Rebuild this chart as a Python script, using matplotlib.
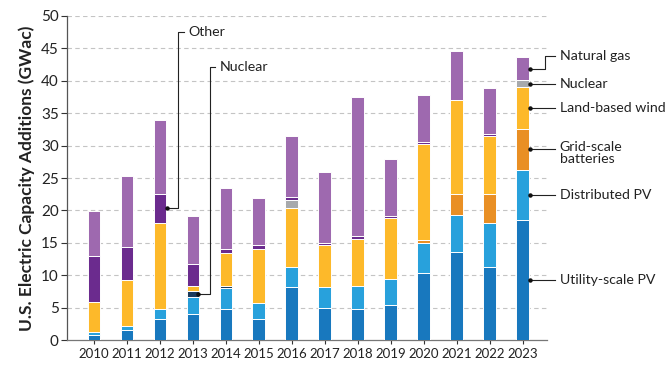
import numpy as np
import matplotlib.pyplot as plt

plt.rcParams["font.family"] = ["Lato", "DejaVu Sans"]

# ── Data (GWac) ────────────────────────────────────────────────────────────────
years = ["2010", "2011", "2012", "2013", "2014", "2015", "2016",
         "2017", "2018", "2019", "2020", "2021", "2022", "2023"]

utility_pv   = [0.8, 1.5, 3.2, 4.0, 4.8, 3.2, 8.2, 5.0, 4.8, 5.4, 10.4, 13.6, 11.3, 18.5]
distrib_pv   = [0.4, 0.7, 1.6, 2.7, 3.3, 2.5, 3.1, 3.2, 3.5, 4.0, 4.5, 5.7, 6.8, 7.8]
batteries    = [0.0, 0.0, 0.0, 0.0, 0.0, 0.0, 0.0, 0.0, 0.0, 0.0, 0.6, 3.2, 4.4, 6.3]
nuclear_low  = [0.0, 0.0, 0.0, 0.8, 0.3, 0.0, 0.0, 0.0, 0.0, 0.0, 0.0, 0.0, 0.0, 0.0]
wind         = [4.7, 7.1, 13.3, 0.8, 5.1, 8.4, 9.0, 6.4, 7.3, 9.4, 14.7, 14.6, 9.0, 6.4]
nuclear      = [0.0, 0.0, 0.0, 0.0, 0.0, 0.0, 1.3, 0.0, 0.0, 0.0, 0.0, 0.0, 0.0, 1.1]
other        = [7.0, 5.0, 4.4, 3.4, 0.6, 0.6, 0.5, 0.4, 0.4, 0.3, 0.4, 0.0, 0.3, 0.0]
natural_gas  = [7.0, 11.0, 11.4, 7.5, 9.4, 7.2, 9.4, 10.9, 21.5, 8.8, 7.2, 7.5, 7.1, 3.5]

series = [
    (utility_pv,  "#1878be"),
    (distrib_pv,  "#28a1dc"),
    (batteries,   "#e98f24"),
    (nuclear_low, "#1c3b5c"),
    (wind,        "#fdb92a"),
    (nuclear,     "#a7a9ac"),
    (other,       "#6b2b8e"),
    (natural_gas, "#9e69af"),
]

# ── Plot ──────────────────────────────────────────────────────────────────────
fig = plt.figure(figsize=(6.72, 3.72), dpi=100)
ax = fig.add_axes([0.0997, 0.086, 0.714, 0.871])

x = np.arange(len(years))
bottom = np.zeros(len(years))
tops = []
for vals, col in series:
    vals = np.array(vals)
    ax.bar(x, vals, width=0.39, bottom=bottom, color=col,
           edgecolor="white", linewidth=0.7, zorder=3)
    tops.append(bottom.copy())
    bottom = bottom + vals
tops.append(bottom.copy())

ax.set_xlim(-0.82, 13.73)
ax.set_ylim(0, 50)
ax.set_yticks(range(0, 51, 5))
ax.set_xticks(x)
ax.set_xticklabels(years)
ax.tick_params(axis="y", labelsize=11, length=4, width=0.8,
               colors="#333333", pad=2, labelcolor="#222222")
ax.tick_params(axis="x", labelsize=9.5, length=3, width=0.8,
               colors="#333333", pad=3, labelcolor="#222222")

for yv in range(5, 51, 5):
    ax.axhline(yv, color="#c4c4c4", linewidth=0.8,
               linestyle=(0, (4, 3)), zorder=1)

for s in ["top", "right"]:
    ax.spines[s].set_visible(False)
ax.spines["left"].set_color("#555555")
ax.spines["bottom"].set_color("#777777")
ax.spines["left"].set_linewidth(0.9)
ax.spines["bottom"].set_linewidth(0.9)

ax.set_ylabel("U.S. Electric Capacity Additions (GWac)",
              fontsize=12.5, fontweight="bold", labelpad=4, color="#222222")


# ── Leader-line labels ────────────────────────────────────────────────────────
def mid(idx, yr):
    return (tops[idx][yr] + tops[idx + 1][yr]) / 2


def leader(pts, text, tx, ty, va="center"):
    xs = [p[0] for p in pts]
    ys = [p[1] for p in pts]
    ax.plot(xs, ys, color="#222222", linewidth=0.8,
            clip_on=False, zorder=5)
    ax.plot(xs[0], ys[0], "o", color="#111111", markersize=2.2,
            clip_on=False, zorder=6)
    ax.text(tx, ty, text, fontsize=10.2, va=va, ha="left",
            color="#222222", clip_on=False, linespacing=0.95)


last = len(years) - 1
xd = last + 0.21

# Natural gas
yg = mid(7, last)
leader([(xd, yg), (13.67, yg), (13.67, 43.8), (13.97, 43.8)],
       "Natural gas", 14.12, 43.8)
# Nuclear
yn = mid(5, last)
leader([(xd, yn), (13.97, yn)], "Nuclear", 14.12, yn)
# Land-based wind
yw = mid(4, last)
leader([(xd, yw), (13.97, yw)], "Land-based wind", 14.12, yw)
# Batteries
yb = mid(2, last)
leader([(xd, yb), (13.97, yb)], "Grid-scale\nbatteries", 14.12, yb + 1.2,
       va="top")
# Distributed PV
yd = mid(1, last)
leader([(xd, yd), (13.97, yd)], "Distributed PV", 14.12, yd)
# Utility-scale PV
yu = mid(0, last)
leader([(xd, yu), (13.97, yu)], "Utility-scale PV", 14.12, yu)

# Other (2012)
yo = mid(6, 2)
leader([(2.21, yo), (2.55, yo), (2.55, 47.5), (2.72, 47.5)],
       "Other", 2.85, 47.5)
# Nuclear (2013)
ynl = mid(3, 3)
leader([(3.15, ynl), (3.52, ynl), (3.52, 42.1), (3.67, 42.1)],
       "Nuclear", 3.82, 42.1)

fig.savefig("out.png", dpi=100)
